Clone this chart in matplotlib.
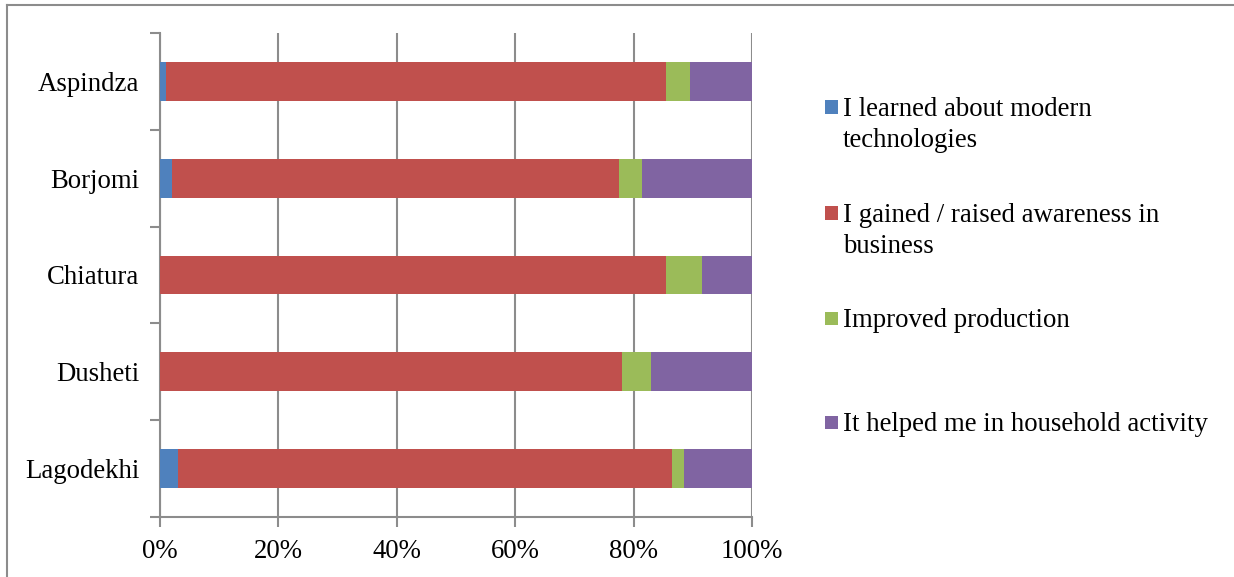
import numpy as np
import matplotlib
matplotlib.use("Agg")
import matplotlib.pyplot as plt
from matplotlib.lines import Line2D
from matplotlib.patches import Rectangle

plt.rcParams.update({
    "font.family": "serif",
    "font.serif": ["Liberation Serif", "DejaVu Serif"],
    "font.size": 19.3,
})

districts = ["Aspindza", "Borjomi", "Chiatura", "Dusheti", "Lagodekhi"]
series_names = [
    "I learned about modern\ntechnologies",
    "I gained / raised awareness in\nbusiness",
    "Improved production",
    "It helped me in household activity",
]
learned = [1, 2, 0, 0, 3]
awareness = [84.5, 75.5, 85.5, 78, 83.5]
production = [4, 4, 6, 5, 2]
household = [10.5, 18.5, 8.5, 17, 11.5]
colors = ["#4F81BD", "#C0504D", "#9BBB59", "#8064A2"]

W, H = 1234, 577
fig = plt.figure(figsize=(W / 100, H / 100), dpi=100)
ax = fig.add_axes([160 / W, 1 - 517 / H, 592 / W, 484 / H])

# stacked horizontal bars, normalised to 100%
data = np.array([learned, awareness, production, household], dtype=float)
data = data / data.sum(axis=0) * 100
ypos = np.arange(len(districts))
left = np.zeros(len(districts))
for vals, c in zip(data, colors):
    ax.barh(ypos, vals, left=left, height=0.4, color=c, edgecolor="none", zorder=3)
    left += vals

ax.set_xlim(0, 100)
ax.set_ylim(len(districts) - 0.5, -0.5)
ax.set_xticks(np.arange(0, 101, 20))
ax.set_xticklabels([f"{v}%" for v in range(0, 101, 20)])
ax.set_yticks(ypos)
ax.set_yticklabels(districts)
ax.set_yticks(np.arange(-0.5, len(districts)), minor=True)

grey = "#8C8C8C"
ax.grid(axis="x", color=grey, linewidth=1.5, zorder=0)
ax.set_axisbelow(True)
for s in ["top", "right"]:
    ax.spines[s].set_visible(False)
for s in ["left", "bottom"]:
    ax.spines[s].set_color(grey)
    ax.spines[s].set_linewidth(1.5)
ax.tick_params(axis="x", length=7, width=1.5, color=grey, pad=9)
ax.tick_params(axis="y", which="major", length=0, pad=15)
ax.tick_params(axis="y", which="minor", length=7, width=1.5, color=grey)

# outer chart border (top and left visible)
fig.add_artist(Line2D([7 / W, 7 / W], [0, 1 - 5 / H], color=grey, lw=1.5))
fig.add_artist(Line2D([7 / W, 1], [1 - 5 / H, 1 - 5 / H], color=grey, lw=1.5))

# legend drawn in figure pixels
entry_y = [107, 213, 318, 422]
for name, c, y in zip(series_names, colors, entry_y):
    fig.add_artist(Rectangle((825 / W, 1 - (y + 6.5) / H), 13 / W, 13 / H,
                             facecolor=c, edgecolor="none"))
    fig.text(843 / W, 1 - (y - 10) / H, name, ha="left", va="top",
             linespacing=1.3)

fig.savefig("out.png", dpi=100)
